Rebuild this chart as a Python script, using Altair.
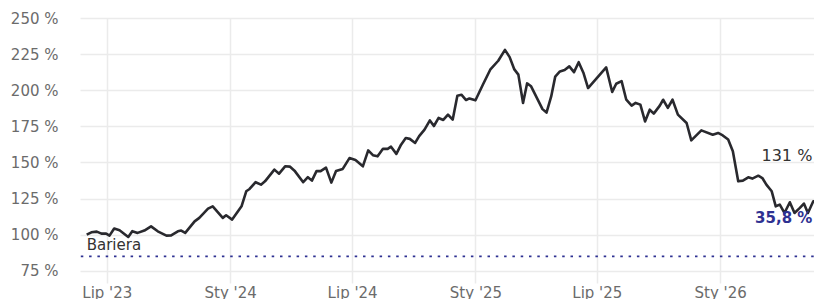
import altair as alt
import pandas as pd

# ---- data ----
dates = [
    "2023-06-01", "2023-06-08", "2023-06-16", "2023-06-23", "2023-06-30", "2023-07-05",
    "2023-07-12", "2023-07-20", "2023-08-02", "2023-08-08", "2023-08-16", "2023-08-26",
    "2023-09-05", "2023-09-15", "2023-09-28", "2023-10-05", "2023-10-15", "2023-10-20",
    "2023-10-26", "2023-11-09", "2023-11-16", "2023-11-29", "2023-12-06", "2023-12-21",
    "2023-12-26",
    "2024-01-04", "2024-01-18", "2024-01-25", "2024-01-30", "2024-02-08", "2024-02-16",
    "2024-02-22", "2024-03-07", "2024-03-14", "2024-03-23", "2024-03-30", "2024-04-06",
    "2024-04-19", "2024-04-26", "2024-05-02", "2024-05-09", "2024-05-15", "2024-05-23",
    "2024-05-31", "2024-06-07", "2024-06-17", "2024-06-27", "2024-07-06", "2024-07-17",
    "2024-07-25", "2024-08-01", "2024-08-08", "2024-08-16", "2024-08-23", "2024-08-28",
    "2024-09-05", "2024-09-12", "2024-09-19", "2024-09-25", "2024-10-03", "2024-10-09",
    "2024-10-17", "2024-10-25", "2024-10-31", "2024-11-07", "2024-11-14", "2024-11-21",
    "2024-11-28", "2024-12-05", "2024-12-11", "2024-12-18", "2024-12-23",
    "2025-01-01", "2025-01-12", "2025-01-23", "2025-02-04", "2025-02-14", "2025-02-21",
    "2025-02-28", "2025-03-06", "2025-03-13", "2025-03-19", "2025-03-25", "2025-04-11",
    "2025-04-17", "2025-04-24", "2025-04-30", "2025-05-07", "2025-05-14", "2025-05-21",
    "2025-05-28", "2025-06-04", "2025-06-11", "2025-06-18", "2025-07-15", "2025-07-24",
    "2025-07-30", "2025-08-07", "2025-08-14", "2025-08-22", "2025-08-28", "2025-09-04",
    "2025-09-11", "2025-09-18", "2025-09-24", "2025-10-03", "2025-10-08", "2025-10-15",
    "2025-10-22", "2025-10-30", "2025-11-12", "2025-11-19", "2025-12-04", "2025-12-21",
    "2025-12-29",
    "2026-01-05", "2026-01-13", "2026-01-20", "2026-01-28", "2026-02-04", "2026-02-12",
    "2026-02-18", "2026-02-27", "2026-03-05", "2026-03-11", "2026-03-19", "2026-03-25",
    "2026-03-31", "2026-04-07", "2026-04-15", "2026-04-22", "2026-04-30", "2026-05-06",
    "2026-05-12", "2026-05-20", "2026-05-25", "2026-06-01",
]

values = [
    100.0, 101.6, 102.1, 100.7, 100.7, 99.3,
    104.2, 103.0, 98.4, 102.4, 101.2, 102.8,
    105.7, 102.3, 99.3, 99.5, 102.3, 102.8,
    101.2, 109.2, 111.6, 118.0, 119.6, 111.6,
    113.4,
    110.4, 119.6, 130.0, 131.6, 136.3, 134.6,
    136.9, 145.0, 142.2, 147.3, 147.1, 144.3,
    136.3, 139.8, 137.4, 144.1, 144.0, 146.4,
    136.0, 144.0, 145.5, 153.0, 151.6, 147.3,
    158.3, 155.0, 154.2, 159.4, 159.4, 160.9,
    155.9, 162.3, 166.9, 166.3, 163.5, 168.2,
    172.7, 179.1, 175.2, 180.8, 179.4, 183.1,
    179.6, 196.2, 196.9, 193.2, 194.3,
    193.0, 203.8, 214.2, 220.4, 227.9, 222.9,
    214.4, 210.8, 191.2, 204.7, 202.7, 186.9,
    184.5, 195.7, 209.4, 213.0, 214.0, 216.5,
    212.5, 219.4, 212.1, 201.5, 215.8, 198.8,
    204.5, 206.3, 193.4, 189.3, 191.2, 190.0,
    178.4, 186.5, 183.8, 189.3, 193.4, 187.7,
    193.4, 183.1, 177.3, 165.3, 172.2, 169.2,
    170.4,
    168.7, 165.8, 157.7, 136.9, 137.4, 139.7,
    138.8, 140.8, 139.2, 134.6, 130.0, 119.6,
    120.8, 115.0, 122.4, 115.0, 118.5, 121.5,
    115.0, 123.1, 123.1, 131.0,
]

barrier = 85
barrier_label = "Bariera"
last_label = "131 %"
distance_label = "35,8 %"

y_ticks = [75, 100, 125, 150, 175, 200, 225, 250]
x_tick_dates = ["2023-07-01", "2024-01-01", "2024-07-01", "2025-01-01", "2025-07-01", "2026-01-01"]
x_tick_labels = ["Lip '23", "Sty '24", "Lip '24", "Sty '25", "Lip '25", "Sty '26"]

assert len(dates) == len(values)

df = pd.DataFrame({"date": dates, "value": values})


def to_dt(s):
    y, m, d = (int(p) for p in s.split("-"))
    return alt.DateTime(year=y, month=m, date=d)


label_expr = ""
for d, lab in zip(x_tick_dates, x_tick_labels):
    label_expr += f"timeFormat(datum.value, '%Y-%m-%d') == '{d}' ? \"{lab}\" : "
label_expr += "''"

FONT = "DejaVu Sans"
GRID = "#ebebeb"
NAVY = "#2e3192"
LINE = "#29292e"

x_scale = alt.Scale(domain=[to_dt("2023-05-22"), to_dt("2026-06-02")])
y_scale = alt.Scale(domain=[66.5, 250], nice=False, zero=False)

x_enc = alt.X(
    "date:T",
    scale=x_scale,
    axis=alt.Axis(
        values=[to_dt(d) for d in x_tick_dates],
        tickCount=len(x_tick_dates) + 10,
        labelExpr=label_expr,
        title=None,
        grid=True,
        gridColor=GRID,
        gridWidth=1.5,
        domain=False,
        ticks=False,
        tickSize=0,
        labelPadding=2,
        labelFont=FONT,
        labelFontSize=15,
        labelColor="#6b6b6b",
        labelBaseline="top",
        labelOverlap=False,
    ),
)
y_enc = alt.Y(
    "value:Q",
    scale=y_scale,
    axis=alt.Axis(
        values=y_ticks,
        tickCount=len(y_ticks) + 10,
        labelExpr="datum.value + ' %'",
        title=None,
        grid=True,
        gridColor=GRID,
        gridWidth=1.5,
        domain=False,
        ticks=False,
        tickSize=0,
        labelPadding=22,
        labelFont=FONT,
        labelFontSize=15,
        labelColor="#6b6b6b",
        labelOverlap=False,
    ),
)

line = alt.Chart(df).mark_line(color=LINE, strokeWidth=2.6, strokeJoin="round", clip=True).encode(
    x=x_enc, y=y_enc
)

barrier_df = pd.DataFrame({"value": [barrier]})
barrier_rule = alt.Chart(barrier_df).mark_rule(
    color=NAVY, strokeDash=[2.5, 5.8], strokeWidth=1.8
).encode(y=alt.Y("value:Q", scale=y_scale))

bar_text_df = pd.DataFrame({"date": [dates[0]], "value": [barrier], "t": [barrier_label]})
bar_text = alt.Chart(bar_text_df).mark_text(
    align="left", baseline="alphabetic", dy=-6, font=FONT, fontSize=15, color="#333333"
).encode(x=alt.X("date:T", scale=x_scale), y=alt.Y("value:Q", scale=y_scale), text="t:N")

last_df = pd.DataFrame({"date": [dates[-1]], "value": [values[-1]], "t": [last_label], "d": [distance_label]})
last_text = alt.Chart(last_df).mark_text(
    align="right", baseline="alphabetic", dx=-9, dy=-29, font=FONT, fontSize=16, color="#333333"
).encode(x=alt.X("date:T", scale=x_scale), y=alt.Y("value:Q", scale=y_scale), text="t:N")
dist_text = alt.Chart(last_df).mark_text(
    align="right", baseline="alphabetic", dx=-9, dy=33, font=FONT, fontSize=15, fontWeight="bold", color=NAVY
).encode(x=alt.X("date:T", scale=x_scale), y=alt.Y("value:Q", scale=y_scale), text="d:N")

chart = (
    alt.layer(line, barrier_rule, bar_text, last_text, dist_text)
    .properties(
        width=742,
        height=265,
        autosize=alt.AutoSizeParams(type="none"),
        padding={"left": 72, "top": 10, "right": -8, "bottom": 16},
        background="white",
    )
    .configure_view(stroke=None)
)

chart.save("out.html", embed_options={"renderer": "svg", "actions": False})
